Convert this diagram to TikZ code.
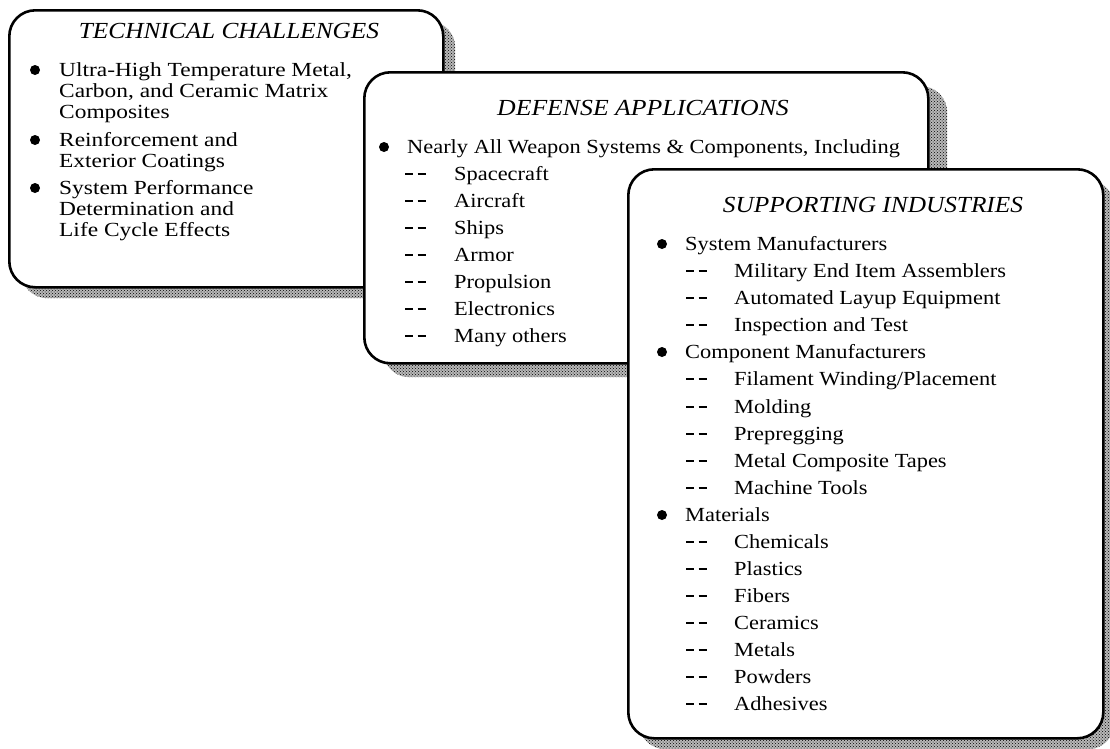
\documentclass[tikz,border=0pt]{standalone}
\usepackage{fontspec}
\setmainfont{Liberation Serif}
\newfontfamily\widerm[FakeStretch=1.17]{Liberation Serif}
\newfontfamily\midrm[FakeStretch=1.12]{Liberation Serif}
\newfontfamily\ttlrm[FakeStretch=1.1]{Liberation Serif}
\usetikzlibrary{patterns}
\begin{document}
\begin{tikzpicture}[x=1pt,y=-1pt,
  panel/.style={draw, line width=2.6pt, fill=white, rounded corners=26pt,
    inner sep=0, anchor=north west},
  shade/.style={preaction={fill=black!28}, pattern=crosshatch dots,
    pattern color=black, draw=none, rounded corners=26pt, inner sep=0,
    anchor=north west},
  ttl/.style={anchor=base, inner sep=0, font=\midrm\fontsize{23}{26}\selectfont\itshape},
  ttls/.style={ttl, font=\ttlrm\fontsize{23}{26}\selectfont\itshape},
  txt/.style={anchor=base west, inner sep=0, font=\midrm\fontsize{20}{24}\selectfont},
  txtw/.style={txt, font=\widerm\fontsize{20}{24}\selectfont},
  dot/.style={circle, fill=black, inner sep=0, minimum size=10pt},
  hyph/.style={txt}]
\useasboundingbox (0,0) rectangle (1110,748);
\newcommand\dd{\rule[5.5pt]{8pt}{1.9pt}\hspace{4.5pt}\rule[5.5pt]{8pt}{1.9pt}}

% ---------- Technical challenges ----------
\node[shade, minimum width=434pt, minimum height=277pt] (s1) at (21,21) {};
\node[panel, minimum width=434pt, minimum height=277pt] (p1) at (8,9) {};
\node[ttls] (t1) at (229,38) {TECHNICAL CHALLENGES};
\node[dot] (d11) at (35,70) {};
\node[txtw] (l11) at (59,76) {Ultra-High Temperature Metal,};
\node[txtw] (l12) at (59,97) {Carbon, and Ceramic Matrix};
\node[txtw] (l13) at (59,118) {Composites};
\node[dot] (d12) at (35,140) {};
\node[txtw] (l14) at (59,146) {Reinforcement and};
\node[txtw] (l15) at (59,167) {Exterior Coatings};
\node[dot] (d13) at (35,188) {};
\node[txtw] (l16) at (59,194) {System Performance};
\node[txtw] (l17) at (59,215) {Determination and};
\node[txtw] (l18) at (59,236) {Life Cycle Effects};

% ---------- Defense applications ----------
\node[shade, minimum width=564pt, minimum height=291pt] (s2) at (383,86) {};
\node[panel, minimum width=564pt, minimum height=291pt] (p2) at (363,71) {};
\node[ttl] (t2) at (643,115) {DEFENSE APPLICATIONS};
\node[dot] (d21) at (384,147) {};
\node[txt] (l21) at (407,153) {Nearly All Weapon Systems \& Components, Including};
\foreach \y/\w [count=\i] in {180/Spacecraft, 207/Aircraft, 234/Ships, 261/Armor,
    288/Propulsion, 315/Electronics, 342/Many others} {
  \node[hyph] (h2\i) at (405,\y) {\dd};
  \node[txt] (m2\i) at (454,\y) {\w};
}

% ---------- Supporting industries ----------
\node[shade, minimum width=475pt, minimum height=569pt] (s3) at (639,180) {};
\node[panel, minimum width=475pt, minimum height=569pt] (p3) at (627,168) {};
\node[ttls] (t3) at (873,212) {SUPPORTING INDUSTRIES};
\node[dot] (d31) at (662,244) {};
\node[txt] (l31) at (685,250) {System Manufacturers};
\foreach \y/\w [count=\i] in {277/Military End Item Assemblers,
    304/Automated Layup Equipment, 331/Inspection and Test} {
  \node[hyph] (ha\i) at (686,\y) {\dd};
  \node[txt] (ma\i) at (734,\y) {\w};
}
\node[dot] (d32) at (662,352) {};
\node[txt] (l32) at (685,358) {Component Manufacturers};
\foreach \y/\w [count=\i] in {385/{Filament Winding/Placement}, 413/Molding,
    440/Prepregging, 467/Metal Composite Tapes, 494/Machine Tools} {
  \node[hyph] (hb\i) at (686,\y) {\dd};
  \node[txt] (mb\i) at (734,\y) {\w};
}
\node[dot] (d33) at (662,515) {};
\node[txt] (l33) at (685,521) {Materials};
\foreach \y/\w [count=\i] in {548/Chemicals, 575/Plastics, 602/Fibers,
    629/Ceramics, 656/Metals, 683/Powders, 710/Adhesives} {
  \node[hyph] (hc\i) at (686,\y) {\dd};
  \node[txt] (mc\i) at (734,\y) {\w};
}
\end{tikzpicture}
\end{document}
